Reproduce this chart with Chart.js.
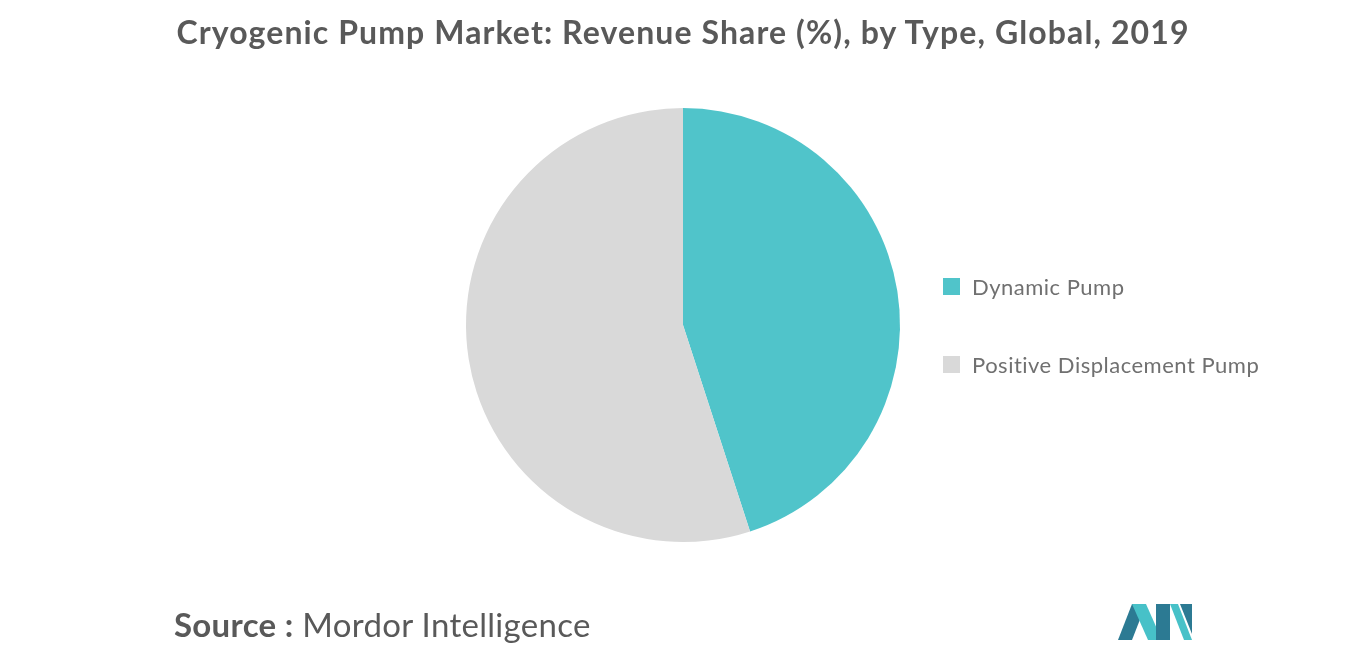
<!DOCTYPE html>
<html><head><meta charset="utf-8">
<script src="https://cdn.jsdelivr.net/npm/chart.js@4"></script>
<style>
body{margin:0;width:1366px;height:655px;background:#fff;font-family:Lato,sans-serif;overflow:hidden;position:relative}
#title{position:absolute;top:12px;left:0;width:1366px;text-align:center;font-size:32px;letter-spacing:1.1px;font-weight:bold;color:#595959}
#wrap{position:absolute;left:0;top:0;width:1366px;height:655px}
#legend{position:absolute;left:943px;top:271px;font-size:22px;letter-spacing:0.5px;color:#707070}
.li{display:flex;align-items:center;height:30px;margin-bottom:48px}
.sw{width:17px;height:17px;margin-right:12px}
#src{position:absolute;left:174px;top:604px;font-size:33px;letter-spacing:0.3px;color:#595959}
</style></head><body>
<div id="wrap"><canvas id="c" width="1366" height="655"></canvas></div>
<div id="title">Cryogenic Pump Market: Revenue Share (%), by Type, Global, 2019</div>
<div id="legend"></div>
<div id="src"><b>Source :</b> Mordor Intelligence</div>
<svg style="position:absolute;left:1118px;top:604px" width="74" height="36">
<polygon points="0,36 14,0 28,0 14,36" fill="#2c7a93"/>
<polygon points="14,0 28,0 44,36 30,36" fill="#47c1c8"/>
<polygon points="38,0 52,0 52,36 38,36" fill="#2c7a93"/>
<polygon points="52,0 60,0 74,36 66,36" fill="#47c1c8"/>
<polygon points="62,0 74,0 74,30" fill="#2c7a93"/>
</svg>
<script>
const categories=["Dynamic Pump","Positive Displacement Pump"];
const shares=[45,55];
const colors=["#50C4CA","#D9D9D9"];
new Chart(document.getElementById('c'),{type:'pie',
data:{labels:categories,datasets:[{data:shares,backgroundColor:colors,borderWidth:0}]},
options:{responsive:false,animation:false,layout:{padding:{left:466,right:466,top:108,bottom:113}},
plugins:{legend:{display:false},tooltip:{enabled:false}}}});
const lg=document.getElementById('legend');
categories.forEach((c,i)=>{lg.innerHTML+=`<div class="li"><div class="sw" style="background:${colors[i]}"></div>${c}</div>`;});
</script></body></html>
